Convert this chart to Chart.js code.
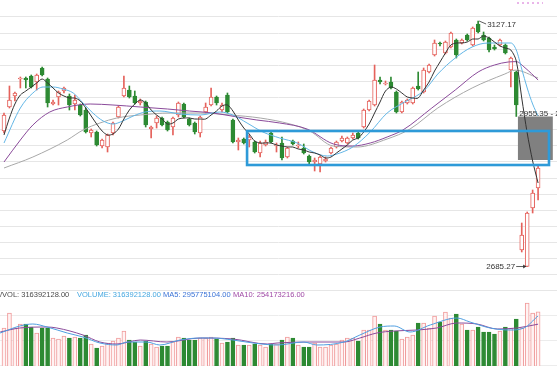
<!DOCTYPE html>
<html><head><meta charset="utf-8">
<script src="https://cdn.jsdelivr.net/npm/chart.js@4.4.1/dist/chart.umd.min.js"></script>
<style>
html,body{margin:0;padding:0;background:#fff;width:557px;height:366px;overflow:hidden;font-family:"Liberation Sans",Arial,sans-serif;}
#price{position:absolute;left:0;top:0;}
#vol{position:absolute;left:0;top:300px;}
.vh{position:absolute;top:290px;font-size:7.5px;line-height:10px;white-space:nowrap;}
</style></head><body>
<canvas id="price" width="557" height="292"></canvas>
<div id="volhead"></div>
<canvas id="vol" width="557" height="66"></canvas>
<script>
// ---------- DATA ----------
const opens = [2929.2,2972.4,2992.2,3022.8,3024.6,3028.2,3017.4,3042.6,3022.8,2977.8,
2990.4,3001.2,2992.2,2977.8,2976.0,2967.0,2925.6,2927.4,2902.2,2900.4,
2925.6,2954.4,2992.2,3003.0,2992.2,2979.6,2981.4,2932.8,2943.6,2952.6,
2945.4,2936.4,2958.0,2977.8,2950.8,2943.6,2925.6,2963.4,2976.0,2990.4,
2967.0,2994.0,2949.0,2909.4,2914.8,2913.0,2909.4,2889.6,2904.0,2925.6,
2902.2,2907.6,2882.4,2911.2,2902.2,2898.6,2884.2,2873.4,2869.8,2875.2,
2889.6,2900.4,2911.2,2907.6,2916.6,2925.6,2936.4,2967.0,2976.0,3021.0,
3013.8,3017.4,2999.4,2963.4,2979.6,2979.6,3010.2,2999.4,3035.4,3066.0,
3087.6,3069.6,3080.4,3093.0,3087.6,3102.0,3084.0,3121.8,3102.0,3096.6,
3080.4,3084.0,3084.0,3039.0,3035.4,2715.0,2685.27,2790.6,2826.6];
const highs = [2961.6,3010.2,2999.4,3026.4,3026.4,3030.0,3031.8,3044.4,3024.6,2985.0,
3001.2,3008.4,2995.8,2994.0,2977.8,2970.6,2932.8,2929.2,2914.8,2923.8,
2945.4,2974.2,3028.2,3010.2,3001.2,2986.8,2983.2,2938.2,2956.2,2954.4,
2947.2,2954.4,2981.4,2979.6,2952.6,2945.4,2956.2,2979.6,3006.6,2992.2,
2979.6,2997.6,2950.8,2916.6,2916.6,2922.0,2911.2,2911.2,2913.0,2927.4,
2907.6,2918.4,2900.4,2913.0,2909.4,2905.8,2886.0,2880.6,2884.2,2882.4,
2900.4,2911.2,2920.2,2918.4,2925.6,2927.4,2968.8,2985.0,3048.0,3026.4,
3019.2,3026.4,3001.2,2983.2,2986.8,3008.4,3035.4,3042.6,3049.8,3093.0,
3089.4,3091.2,3107.4,3094.8,3094.8,3103.8,3116.4,3127.17,3107.4,3098.4,
3084.0,3094.8,3085.8,3062.4,3037.2,2763.6,2783.4,2823.0,2868.0];
const lows = [2925.6,2970.6,2983.2,3006.6,3006.6,3006.6,3003.0,3028.2,2972.4,2976.0,
2976.0,2997.6,2967.0,2967.0,2956.2,2925.6,2918.4,2902.2,2898.6,2891.4,
2922.0,2952.6,2990.4,2988.6,2977.8,2976.0,2936.4,2916.6,2934.6,2938.2,
2929.2,2922.0,2954.4,2952.6,2938.2,2923.8,2918.4,2961.6,2974.2,2976.0,
2963.4,2961.6,2907.6,2895.0,2905.8,2900.4,2889.6,2882.4,2902.2,2907.6,
2891.4,2877.0,2880.6,2904.0,2898.6,2887.8,2869.8,2857.2,2855.4,2873.4,
2887.8,2898.6,2909.4,2905.8,2914.8,2914.8,2934.6,2965.2,2974.2,3013.8,
3012.0,3004.8,2961.6,2961.6,2977.8,2977.8,3003.0,2997.6,3033.6,3064.2,
3082.2,3067.8,3078.6,3060.6,3085.8,3091.2,3082.2,3105.6,3091.2,3071.4,
3075.0,3082.2,3067.8,3008.4,2955.35,2711.4,2685.27,2781.6,2805.0];
const closes = [2958.0,2985.0,2997.6,3024.6,3021.0,3008.4,3030.0,3030.0,2979.6,2981.4,
2999.4,3006.6,2976.0,2985.0,2958.0,2927.4,2931.0,2904.0,2913.0,2922.0,
2943.6,2972.4,3006.6,2990.4,2979.6,2983.2,2940.0,2936.4,2952.6,2940.0,
2931.0,2952.6,2979.6,2954.4,2940.0,2927.4,2954.4,2972.4,2990.4,2979.6,
2976.0,2963.4,2909.4,2913.0,2907.6,2918.4,2891.4,2907.6,2909.4,2909.4,
2904.0,2880.6,2898.6,2905.8,2904.0,2889.6,2873.4,2877.0,2882.4,2878.8,
2898.6,2909.4,2916.6,2916.6,2922.0,2916.6,2967.0,2983.2,3021.0,3017.4,
3015.6,3006.6,2963.4,2981.4,2985.0,3006.6,3004.8,3039.0,3048.0,3087.6,
3085.8,3089.4,3105.6,3066.0,3093.0,3093.0,3114.6,3107.4,3093.0,3075.0,
3076.8,3093.0,3069.6,3060.6,2976.0,2742.0,2781.6,2817.6,2862.6];
// volume, millions
const volumes = [235,310,235,255,255,240,210,235,235,185,
180,195,185,190,185,200,155,135,145,160,
170,185,220,175,165,145,170,155,140,145,
145,165,190,185,175,175,185,185,190,180,
160,165,185,150,150,150,155,150,140,155,
155,175,190,185,150,140,140,160,140,140,
150,155,175,185,185,170,225,225,295,255,
225,225,220,180,190,200,260,260,235,295,
265,315,285,305,255,225,225,240,215,215,
205,220,240,235,280,235,360,310,316.39];
// price moving averages
const ma5 = [2922.0,2952.6,2977.8,2994.0,3001.2,3008.4,3015.6,3022.8,3015.6,3006.6,
2997.6,2992.2,2988.6,2988.6,2983.2,2970.6,2956.2,2941.8,2929.2,2922.0,
2923.8,2932.8,2950.8,2967.0,2977.8,2985.0,2979.6,2967.0,2958.0,2950.8,
2941.8,2943.6,2950.8,2952.6,2952.6,2950.8,2950.8,2950.8,2958.0,2965.2,
2974.2,2976.0,2965.2,2949.0,2934.6,2923.8,2911.2,2907.6,2907.6,2907.6,
2904.0,2902.2,2900.4,2900.4,2896.8,2895.0,2891.4,2889.6,2886.0,2880.6,
2882.4,2889.6,2896.8,2904.0,2913.0,2916.6,2927.4,2941.8,2961.6,2981.4,
3001.2,3008.4,3004.8,2997.6,2990.4,2988.6,2988.6,3003.0,3017.4,3037.2,
3053.4,3069.6,3084.0,3087.6,3087.6,3089.4,3094.8,3094.8,3100.2,3096.6,
3089.4,3082.2,3078.6,3075.0,3055.2,2988.6,2925.6,2875.2,2835.6];
const ma10 = [[0,2907.6],[3,2970.6],[5.3,2997.6],[7.2,3008.4],[9,3008.4],[10.8,3004.8],[12.7,2997.6],[14.5,2979.6],[16.3,2961.6],[18.2,2947.2],[20,2941.8],[21.8,2947.2],[23.7,2956.2],[25.9,2963.4],[28.6,2965.2],[32.3,2959.8],[36,2958.0],[39.6,2963.4],[42,2958.0],[44.6,2943.6],[47.5,2927.4],[50.6,2916.6],[53.8,2907.6],[56.7,2891.4],[59.3,2884.2],[61.1,2887.8],[64,2900.4],[67.2,2927.4],[70.3,2961.6],[73.2,2979.6],[77.2,3003.0],[79.6,3031.8],[82.8,3060.6],[85.9,3080.4],[88.8,3087.6],[91.9,3087.6],[93,3087.6],[94,3075.0],[95,3040.8],[96,3006.6],[97,2977.8],[98,2956.2]];
const ma20 = [[0,2873.4],[3,2913.0],[5.3,2940.0],[8.4,2963.4],[11.6,2972.4],[15.8,2977.8],[20,2976.0],[25,2972.4],[30,2968.8],[34,2965.2],[38.3,2961.6],[42.8,2954.4],[46.4,2949.0],[50.6,2943.6],[55.6,2932.8],[60.4,2906.0],[64,2902.2],[67.2,2907.6],[70.3,2918.4],[73.2,2931.0],[78.5,2970.6],[82.8,3003.0],[87,3035.4],[90,3048.0],[92.5,3053.4],[94,3054.0],[95.6,3043.0],[98,3021.0]];
const ma60 = [[0,2862.6],[5.3,2882.4],[11.6,2913.0],[14.5,2931.0],[17.6,2943.6],[20.7,2952.6],[25,2958.0],[30.5,2961.6],[36,2961.6],[41.5,2958.0],[47,2952.6],[52.5,2941.8],[56.1,2929.2],[60.4,2902.2],[64.8,2900.4],[70.3,2914.8],[74.5,2932.8],[79.6,2970.6],[85.9,3006.6],[91.9,3031.8],[93.8,3038.8],[98,3024.6]];
// volume moving averages, millions
const volMa5 = [[-0.7,210],[2.9,245],[5.3,255],[7.9,240],[11.6,210],[14.5,190],[17.6,160],[20.7,150],[22.6,165],[26.2,165],[28.6,150],[32.3,175],[36,185],[38.3,185],[42,175],[45.7,160],[50.1,150],[55,165],[57.4,150],[62.4,165],[65.3,200],[69,240],[71.6,245],[74.5,215],[78.2,250],[83.1,285],[85.5,265],[89.2,235],[92.8,225],[95.4,235],[98,295.78]];
const volMa10 = [[-0.7,215],[2.9,235],[7.9,240],[9.7,235],[14.5,200],[17.6,165],[20.7,155],[25,175],[29.9,165],[36,185],[42,180],[48.3,155],[50.1,160],[56.1,165],[62.4,165],[65.3,185],[68.4,210],[71.6,220],[75.8,225],[79.4,235],[83.1,260],[86.8,255],[90.5,230],[94.1,235],[98,254.17]];
// hidden tick values (grid lines)
const gridPrices = [3134.4,3105.4,3076.4,3047.5,3018.5,2989.5,2960.5,2931.5,2902.6,2873.6,2844.6,2815.6,2786.6,2757.7,2728.7,2699.7,2670.7,2641.7];
const gridVolumes = [300,175,50];
// annotations (data units)
const zoneBox = {x0:44.6, x1:100.0, top:2929.2, bottom:2868.0};
const gapBox = {x0:94.3, x1:100.7, top:2955.35, bottom:2877.0};
const gapLabel = '2955.35 - 2';
const headerItems = [['/VOL',316392128],['VOLUME',316392128],['MA5',295775104],['MA10',254173216]];

// ---------- STYLE ----------
const RED='#e5625c', GREEN='#2d8a33';
const headerColors=['#4a4a4a','#45a7e0','#3b73d6','#a04aa6'];
const headerLeft=[0,77,163,233];
const XMIN=-0.734, XMAX=101.47;

const head=document.getElementById('volhead');
headerItems.forEach((h,k)=>{const s=document.createElement('span');s.className='vh';s.style.left=headerLeft[k]+'px';s.style.color=headerColors[k];s.textContent=h[0]+': '+h[1].toFixed(2);head.appendChild(s);});

const idx = closes.map((_,i)=>i);
const isUp = closes.map((c,i)=>c>=opens[i]);
const candleCol = isUp.map(u=>u?RED:GREEN);
const pts = a=>a.map(p=>({x:p[0],y:p[1]}));

const annot = {
  id:'annot',
  beforeDatasetsDraw(chart){
    const {ctx,scales:{x,y}}=chart;
    ctx.save();
    ctx.fillStyle='#808080';
    const a=x.getPixelForValue(gapBox.x0), b=x.getPixelForValue(gapBox.x1);
    const t=y.getPixelForValue(gapBox.top), u=y.getPixelForValue(gapBox.bottom);
    ctx.fillRect(a,t,b-a,u-t);
    ctx.restore();
  },
  afterDatasetsDraw(chart){
    const {ctx,scales:{x,y}}=chart;
    ctx.save();
    ctx.strokeStyle='#2e9ad8'; ctx.lineWidth=2.6;
    const a=x.getPixelForValue(zoneBox.x0), b=x.getPixelForValue(zoneBox.x1);
    const t=y.getPixelForValue(zoneBox.top), u=y.getPixelForValue(zoneBox.bottom);
    ctx.strokeRect(a,t,b-a,u-t);
    ctx.font='8px "Liberation Sans", Arial, sans-serif';
    ctx.fillStyle='#333'; ctx.strokeStyle='#333'; ctx.lineWidth=0.8;
    ctx.textBaseline='middle';
    // max label
    let hi=0; highs.forEach((v,i)=>{if(v>highs[hi])hi=i;});
    let px=x.getPixelForValue(hi), py=y.getPixelForValue(highs[hi]);
    ctx.beginPath(); ctx.moveTo(px+1,py); ctx.lineTo(px+8,py+3); ctx.stroke();
    ctx.textAlign='left'; ctx.fillText(highs[hi].toFixed(2),px+9,py+4);
    // min label
    let lo=0; lows.forEach((v,i)=>{if(v<lows[lo])lo=i;});
    px=x.getPixelForValue(lo); py=y.getPixelForValue(lows[lo]);
    ctx.beginPath(); ctx.moveTo(px-11,py); ctx.lineTo(px-1,py); ctx.stroke();
    ctx.beginPath(); ctx.moveTo(px-1,py); ctx.lineTo(px-4,py-2); ctx.lineTo(px-4,py+2); ctx.closePath(); ctx.fill();
    ctx.textAlign='right'; ctx.fillText(lows[lo].toFixed(2),px-12,py);
    // gap label
    px=x.getPixelForValue(94); py=y.getPixelForValue(gapBox.top);
    ctx.textAlign='left'; ctx.fillText(gapLabel,px+3,py-3);
    // small pink marker top right
    ctx.strokeStyle='#d46cd4'; ctx.lineWidth=1; ctx.setLineDash([2,3]);
    ctx.beginPath(); ctx.moveTo(517,3); ctx.lineTo(543,3); ctx.stroke();
    ctx.restore();
  }
};

const lineDs=(data,color,order,extra)=>Object.assign({type:'line',data,borderColor:color,borderWidth:1,pointRadius:0,fill:false,order,cubicInterpolationMode:'monotone'},extra||{});

new Chart(document.getElementById('price'),{
  type:'bar',
  data:{datasets:[
    {data:idx.map(i=>({x:i,y:[lows[i],highs[i]]})),backgroundColor:candleCol,borderWidth:0,barThickness:1,grouped:false,order:10},
    {data:idx.map(i=>({x:i,y:[opens[i],closes[i]]})),backgroundColor:isUp.map(u=>u?'#ffffff':GREEN),borderColor:candleCol,borderWidth:1,borderSkipped:false,barThickness:4,grouped:false,order:9},
    lineDs(pts(ma60),'#a8a8a8',4),
    lineDs(pts(ma20),'#8a4a9a',3),
    lineDs(pts(ma10),'#62b6e6',2),
    lineDs(idx.map(i=>({x:i,y:ma5[i]})),'#333333',1,{cubicInterpolationMode:'default',tension:0.3})
  ]},
  options:{
    responsive:false,animation:false,events:[],
    layout:{padding:0,autoPadding:false},
    plugins:{legend:{display:false},tooltip:{enabled:false}},
    scales:{
      x:{type:'linear',min:XMIN,max:XMAX,display:false,offset:false},
      y:{min:2639.4,max:3165,display:true,border:{display:false},
         ticks:{display:false},grid:{color:'#e6e6e6',drawTicks:false,lineWidth:1},
         afterBuildTicks:s=>{s.ticks=gridPrices.map(v=>({value:v}));}}
    }
  },
  plugins:[annot]
});

new Chart(document.getElementById('vol'),{
  type:'bar',
  data:{datasets:[
    {data:idx.map(i=>({x:i,y:volumes[i]})),backgroundColor:isUp.map(u=>u?'#fff3f3':GREEN),borderColor:isUp.map(u=>u?'#f09a9a':GREEN),borderWidth:1,borderSkipped:false,barThickness:4,grouped:false,order:5},
    lineDs(pts(volMa10),'#8a4a9a',2),
    lineDs(pts(volMa5),'#4f9ee0',1)
  ]},
  options:{
    responsive:false,animation:false,events:[],
    layout:{padding:0,autoPadding:false},
    plugins:{legend:{display:false},tooltip:{enabled:false}},
    scales:{
      x:{type:'linear',min:XMIN,max:XMAX,display:false,offset:false},
      y:{min:45,max:375,display:true,border:{display:false},
         ticks:{display:false},grid:{color:'#ececec',drawTicks:false},
         afterBuildTicks:s=>{s.ticks=gridVolumes.map(v=>({value:v}));}}
    }
  }
});
</script>
</body></html>
